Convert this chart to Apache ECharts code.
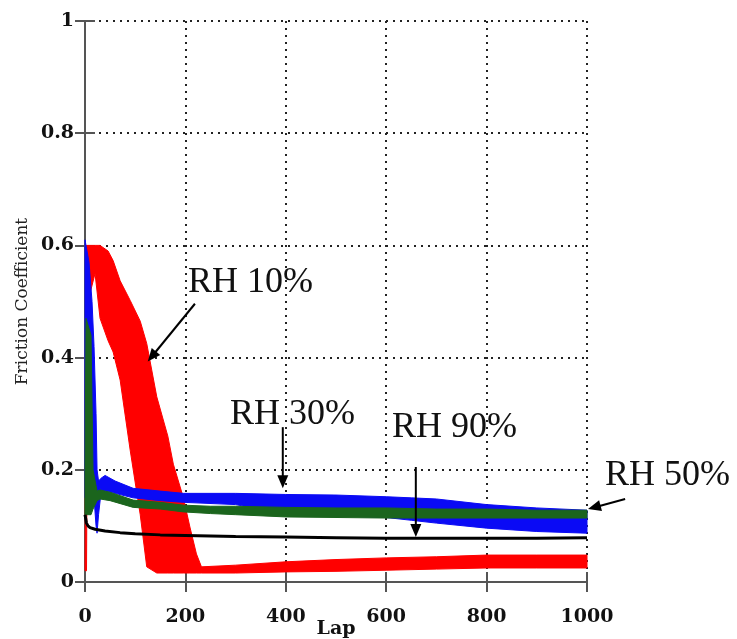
<!DOCTYPE html>
<html>
<head>
<meta charset="utf-8">
<title>Friction Coefficient vs Lap</title>
<script src="https://cdn.jsdelivr.net/npm/echarts@6/dist/echarts.min.js"></script>
<style>
    html, body { margin: 0; padding: 0; background: #fff; }
    #main { width: 737px; height: 639px; }
</style>
</head>
<body>
<div id="main"></div>
<script>
    // values: lap -> friction coefficient (band low / high)
    var xTicks = [0, 200, 400, 600, 800, 1000];
    var yTicks = [0, 0.2, 0.4, 0.6, 0.8, 1];

    // RH 10% (red)
    var redX    = [0, 3, 6, 20, 30, 46, 56, 70, 90, 110, 123, 143, 165, 176, 196, 209, 222, 232, 300, 400, 500, 600, 700, 800, 900, 1000];
    var redLow  = [0.02, 0.02, 0.5, 0.55, 0.47, 0.43, 0.41, 0.36, 0.235, 0.12, 0.027, 0.016, 0.016, 0.016, 0.016, 0.016, 0.016, 0.016, 0.016, 0.018, 0.019, 0.021, 0.023, 0.025, 0.025, 0.025];
    var redHigh = [0.03, 0.6, 0.6, 0.6, 0.6, 0.59, 0.573, 0.537, 0.502, 0.465, 0.425, 0.33, 0.26, 0.21, 0.15, 0.098, 0.05, 0.027, 0.03, 0.036, 0.04, 0.043, 0.045, 0.048, 0.048, 0.048];

    // RH 30% (blue)
    var blueX    = [0, 2, 8, 14, 18, 22, 24, 27, 32, 40, 60, 96, 150, 196, 300, 400, 500, 600, 650, 700, 800, 900, 1000];
    var blueLow  = [0.15, 0.15, 0.2, 0.2, 0.15, 0.1, 0.087, 0.12, 0.16, 0.162, 0.158, 0.15, 0.145, 0.142, 0.138, 0.12, 0.118, 0.115, 0.11, 0.105, 0.096, 0.09, 0.087];
    var blueHigh = [0.61, 0.6, 0.57, 0.5, 0.42, 0.3, 0.2, 0.18, 0.185, 0.19, 0.18, 0.167, 0.162, 0.158, 0.158, 0.156, 0.155, 0.152, 0.15, 0.148, 0.138, 0.132, 0.128];

    // RH 50% (green)
    var greenX    = [0, 2, 12, 16, 24, 30, 50, 96, 150, 196, 250, 300, 400, 500, 600, 700, 800, 900, 1000];
    var greenLow  = [0.12, 0.12, 0.12, 0.13, 0.145, 0.148, 0.145, 0.133, 0.13, 0.125, 0.122, 0.12, 0.116, 0.115, 0.114, 0.114, 0.114, 0.114, 0.114];
    var greenHigh = [0.2, 0.47, 0.44, 0.2, 0.162, 0.164, 0.16, 0.146, 0.142, 0.137, 0.135, 0.135, 0.133, 0.132, 0.132, 0.13, 0.13, 0.128, 0.128];

    // RH 90% (black)
    var blackX = [0, 1, 3, 6, 10, 20, 40, 70, 100, 150, 200, 300, 400, 500, 600, 700, 800, 900, 1000];
    var blackY = [0.12, 0.115, 0.105, 0.1, 0.097, 0.094, 0.091, 0.088, 0.086, 0.084, 0.083, 0.081, 0.08, 0.079, 0.078, 0.078, 0.078, 0.078, 0.079];

    // annotations: arrow start / tip in data units, label text
    var noteText  = ['RH 10%', 'RH 30%', 'RH 90%', 'RH 50%'];
    var arrowFrom = [[219, 0.496], [394, 0.276], [659, 0.205], [1076, 0.148]];
    var arrowTo   = [[125, 0.393], [394, 0.167], [659, 0.08], [1002, 0.13]];
    var notePos   = [[188, 283], [230, 415], [392, 428], [605, 476]];

    var chart = echarts.init(document.getElementById('main'));

    function band(name, xs, lows, highs, color) {
        return {
            name: name,
            type: 'custom',
            silent: true,
            data: xs.map(function (x, i) { return [x, lows[i], highs[i]]; }),
            encode: { x: 0, y: [1, 2] },
            renderItem: function (params, api) {
                if (params.dataIndex !== 0) return null;
                var pts = [];
                for (var i = 0; i < xs.length; i++) pts.push(api.coord([xs[i], highs[i]]));
                for (var j = xs.length - 1; j >= 0; j--) pts.push(api.coord([xs[j], lows[j]]));
                return {
                    type: 'polygon',
                    shape: { points: pts },
                    style: { fill: color, stroke: color, lineWidth: 1 }
                };
            }
        };
    }

    var labelFont = { color: '#111', fontFamily: 'DejaVu Serif', fontWeight: 'bold', fontSize: 19 };
    var axisGray = { color: '#555', width: 2 };
    var dots = { type: [2, 5], color: '#222', width: 2 };

    option = {
        animation: false,
        backgroundColor: '#fff',
        grid: { left: 85, right: 150, top: 21, bottom: 57, outerBoundsMode: 'none', containLabel: false },
        xAxis: [
            {
                type: 'value', min: 0, max: 1000, interval: 200, position: 'bottom',
                name: 'Lap', nameLocation: 'middle', nameGap: 38, nameMoveOverlap: false,
                nameTextStyle: { color: '#111', fontFamily: 'DejaVu Serif', fontWeight: 'bold', fontSize: 19 },
                axisLine: { lineStyle: axisGray },
                axisTick: { inside: true, length: 10, lineStyle: axisGray },
                axisLabel: Object.assign({ margin: 26, formatter: function (v) { return xTicks.indexOf(v) >= 0 ? String(v) : ''; } }, labelFont),
                splitLine: { show: true, lineStyle: dots }
            },
            {
                type: 'value', min: 0, max: 1000, interval: 200, position: 'top',
                axisLine: { lineStyle: axisGray },
                axisTick: { inside: true, length: 10, lineStyle: axisGray },
                axisLabel: { show: false },
                splitLine: { show: false }
            }
        ],
        yAxis: [
            {
                type: 'value', min: 0, max: 1, interval: 0.2, position: 'left',
                name: 'Friction Coefficient', nameLocation: 'middle', nameGap: 54, nameMoveOverlap: false,
                nameTextStyle: { color: '#222', fontFamily: 'DejaVu Serif', fontSize: 17 },
                axisLine: { lineStyle: axisGray },
                axisTick: { inside: true, length: 10, lineStyle: axisGray },
                axisLabel: Object.assign({ margin: 11, formatter: function (v) { return String(+v.toFixed(1)); } }, labelFont),
                splitLine: { show: true, lineStyle: dots }
            },
            {
                type: 'value', min: 0, max: 1, interval: 0.2, position: 'right',
                axisLine: { lineStyle: axisGray },
                axisTick: { inside: true, length: 10, lineStyle: axisGray },
                axisLabel: { show: false },
                splitLine: { show: false }
            }
        ],
        series: [
            band('RH 10%', redX, redLow, redHigh, '#ff0000'),
            band('RH 30%', blueX, blueLow, blueHigh, '#0a0af5'),
            band('RH 50%', greenX, greenLow, greenHigh, '#1b651d'),
            {
                name: 'RH 90%',
                type: 'line',
                symbol: 'none',
                silent: true,
                data: blackX.map(function (x, i) { return [x, blackY[i]]; }),
                lineStyle: { color: '#000', width: 3 }
            }
        ]
    };
    chart.setOption(option);

    // arrows and labels, placed through the chart's own scales
    var graphics = [];
    for (var k = 0; k < noteText.length; k++) {
        var p0 = chart.convertToPixel({ gridIndex: 0 }, arrowFrom[k]);
        var p1 = chart.convertToPixel({ gridIndex: 0 }, arrowTo[k]);
        var dx = p1[0] - p0[0], dy = p1[1] - p0[1];
        var len = Math.sqrt(dx * dx + dy * dy);
        var ux = dx / len, uy = dy / len;
        var head = 13, half = 5.5;
        var bx = p1[0] - ux * head, by = p1[1] - uy * head;
        graphics.push({
            type: 'line', z: 100,
            shape: { x1: p0[0], y1: p0[1], x2: bx + ux * 2, y2: by + uy * 2 },
            style: { stroke: '#000', lineWidth: 2 }
        });
        graphics.push({
            type: 'polygon', z: 100,
            shape: { points: [p1, [bx - uy * half, by + ux * half], [bx + uy * half, by - ux * half]] },
            style: { fill: '#000' }
        });
        graphics.push({
            type: 'text', z: 100,
            style: {
                x: notePos[k][0], y: notePos[k][1], text: noteText[k],
                font: '36px "Liberation Serif"', fill: '#111', verticalAlign: 'middle'
            }
        });
    }
    chart.setOption({ graphic: graphics });
</script>
</body>
</html>
